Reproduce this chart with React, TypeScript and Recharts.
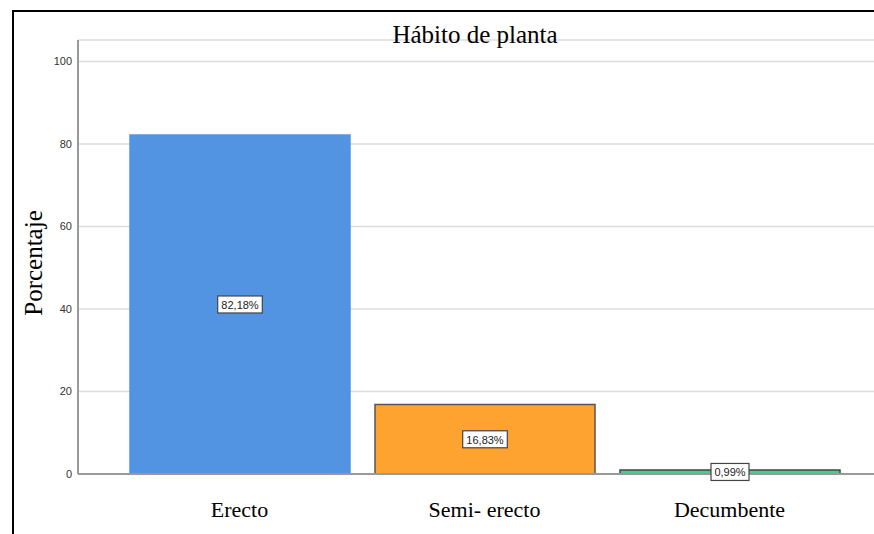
import React from "react";
import { BarChart, Bar, XAxis, YAxis, CartesianGrid, Cell, LabelList, Label } from "recharts";

const categories = ["Erecto", "Semi- erecto", "Decumbente"];
const percentages = [82.18, 16.83, 0.99];
const percentLabels = ["82,18%", "16,83%", "0,99%"];
const barColors = ["#5294E2", "#FFA330", "#4CC98D"];
const barStrokes = ["#5294E2", "#555555", "#444444"];
const yTicks = [0, 20, 40, 60, 80, 100];
const title = "Hábito de planta";
const yTitle = "Porcentaje";

const data = categories.map((c, i) => ({ name: c, value: percentages[i], label: percentLabels[i] }));

const XTick = (props: any) => {
  const { x, y, payload } = props;
  return (
    <text x={x} y={y + 27} textAnchor="middle" dominantBaseline="central"
      fontFamily="'Liberation Serif', 'Times New Roman', serif" fontSize={22} fill="#000">
      {payload.value}
    </text>
  );
};

const BoxLabel = (props: any) => {
  const { x, y, width, height, value } = props;
  const cx = x + width / 2;
  const cy = y + height / 2;
  const w = String(value).length * 6.6 + 5;
  const h = 17;
  return (
    <g>
      <rect x={cx - w / 2} y={cy - h / 2} width={w} height={h} fill="#fff" stroke="#444" strokeWidth={1.2} />
      <text x={cx} y={cy + 0.5} textAnchor="middle" dominantBaseline="central"
        fontFamily="'Liberation Sans', Arial, sans-serif" fontSize={11} fill="#222">
        {value}
      </text>
    </g>
  );
};

export default function App() {
  return (
    <div style={{ position: "absolute", left: 0, top: 0, width: 874, height: 534, overflow: "hidden", background: "#fff" }}>
      <div style={{ position: "absolute", left: 12, top: 10, width: 900, height: 600, border: "2px solid #000", boxSizing: "border-box" }} />
      <div style={{ position: "absolute", left: 0, top: 0 }}>
        <BarChart width={874} height={534} data={data} margin={{ top: 40, right: 0, bottom: 0, left: 0 }}>
          <CartesianGrid vertical={false} stroke="#dcdcdc" strokeWidth={1.5} />
          <YAxis
            width={78}
            domain={[0, 105.2]}
            ticks={yTicks}
            allowDataOverflow
            tickLine={false}
            tickSize={6}
            tickMargin={0}
            axisLine={{ stroke: "#999", strokeWidth: 2 }}
            tick={{ fontFamily: "'Liberation Sans', Arial, sans-serif", fontSize: 11, fill: "#333" }}
          >
            <Label
              content={() => (
                <text x={33} y={263} transform="rotate(-90 33 263)" textAnchor="middle" dominantBaseline="central"
                  fontFamily="'Liberation Serif', 'Times New Roman', serif" fontSize={25} fill="#000">
                  {yTitle}
                </text>
              )}
            />
          </YAxis>
          <XAxis
            dataKey="name"
            height={60}
            padding={{ left: 39, right: 22 }}
            tickLine={false}
            axisLine={{ stroke: "#999", strokeWidth: 2 }}
            tick={<XTick />}
            interval={0}
          />
          <Bar dataKey="value" barSize={220} isAnimationActive={false}>
            {data.map((d, i) => (
              <Cell key={d.name} fill={barColors[i]} stroke={barStrokes[i]} strokeWidth={1.5} />
            ))}
            <LabelList dataKey="label" content={<BoxLabel />} />
          </Bar>
        </BarChart>
      </div>
      <div style={{ position: "absolute", left: 0, width: 950, top: 19, textAlign: "center", fontFamily: "'Liberation Serif', 'Times New Roman', serif", fontSize: 25, lineHeight: "32px", color: "#000" }}>
        {title}
      </div>
    </div>
  );
}
